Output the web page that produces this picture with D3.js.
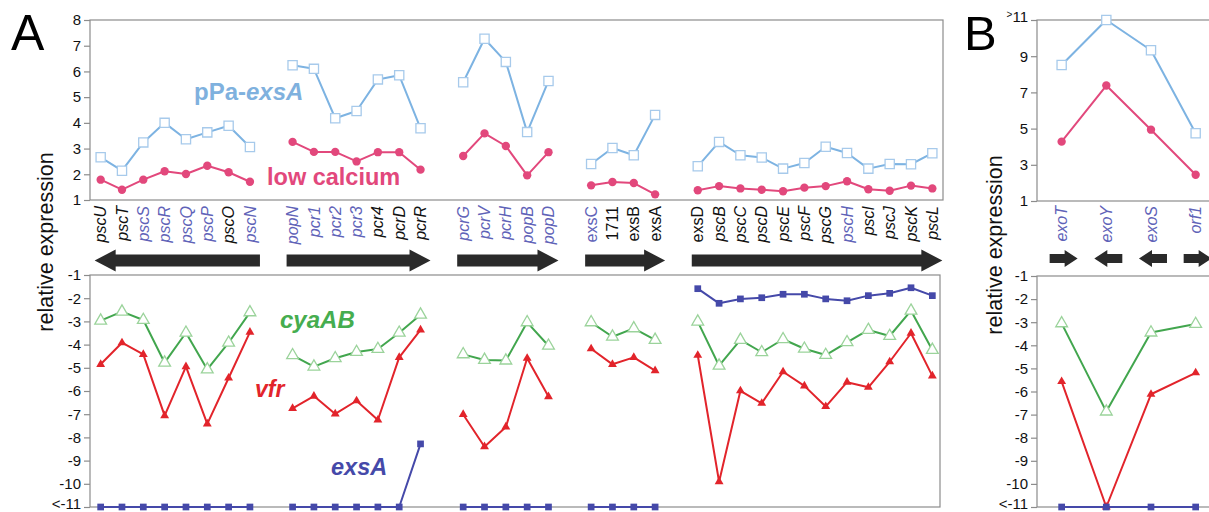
<!DOCTYPE html>
<html><head><meta charset="utf-8">
<script src="https://cdn.jsdelivr.net/npm/d3@7"></script>
<style>
body{margin:0;background:#fff}
svg{display:block}
text{font-family:"Liberation Sans",Arial,Helvetica,sans-serif}
</style>
</head><body>
<svg id="c" width="1209" height="512"></svg>
<script>
// ---------------- DATA ----------------
// Panel A: genes in genomic order, null = gap between operons
const genesA = ["pscU","pscT","pscS","pscR","pscQ","pscP","pscO","pscN",null,
  "popN","pcr1","pcr2","pcr3","pcr4","pcrD","pcrR",null,
  "pcrG","pcrV","pcrH","popB","popD",null,
  "exsC","1711","exsB","exsA",null,
  "exsD","pscB","pscC","pscD","pscE","pscF","pscG","pscH","pscI","pscJ","pscK","pscL"];
const blueLabelsA = ["pscS","pscR","pscQ","pscP","pscN","popN","pcr1","pcr2","pcr3",
  "pcrG","pcrV","pcrH","popB","popD","exsC","pscH"];
const uprightLabelsA = ["exsC","1711","exsB","exsA","exsD"];

const pPaExsA_A = [2.66,2.14,3.24,4.00,3.36,3.63,3.89,3.06,null,
  6.24,6.10,4.18,4.46,5.69,5.85,3.79,null,
  5.58,7.27,6.37,3.64,5.63,null,
  2.40,3.02,2.74,4.31,null,
  2.31,3.26,2.74,2.65,2.22,2.44,3.07,2.83,2.22,2.40,2.39,2.82];
const lowCalcium_A = [1.79,1.40,1.79,2.12,2.01,2.33,2.08,1.71,null,
  3.26,2.87,2.87,2.50,2.86,2.86,2.18,null,
  2.71,3.59,3.10,1.96,2.86,null,
  1.57,1.70,1.66,1.22,null,
  1.38,1.54,1.45,1.40,1.34,1.48,1.54,1.73,1.42,1.36,1.56,1.45];
const cyaAB_A = [-2.97,-2.58,-2.94,-4.78,-3.49,-5.07,-3.92,-2.61,null,
  -4.46,-4.95,-4.59,-4.32,-4.19,-3.49,-2.71,null,
  -4.42,-4.66,-4.69,-3.04,-4.05,null,
  -3.04,-3.66,-3.30,-3.80,null,
  -3.01,-4.91,-3.80,-4.33,-3.77,-4.18,-4.45,-3.90,-3.37,-3.63,-2.54,-4.23];
const vfr_A = [-4.85,-3.92,-4.42,-7.06,-4.95,-7.42,-5.44,-3.46,null,
  -6.75,-6.22,-6.99,-6.42,-7.25,-4.55,-3.37,null,
  -7.01,-8.40,-7.55,-4.59,-6.24,null,
  -4.18,-4.85,-4.55,-5.12,null,
  -4.46,-9.91,-5.99,-6.53,-5.17,-5.78,-6.67,-5.62,-5.84,-4.74,-3.51,-5.35];
const exsA_A = [-11,-11,-11,-11,-11,-11,-11,-11,null,
  -11,-11,-11,-11,-11,-11,-8.28,null,
  -11,-11,-11,-11,-11,null,
  -11,-11,-11,-11,null,
  -1.59,-2.22,-2.03,-1.98,-1.83,-1.83,-2.03,-2.11,-1.89,-1.79,-1.55,-1.89];
// operon arrows (first gene, last gene, direction)
const operonsA = [["pscU","pscN",-1],["popN","pcrR",1],["pcrG","popD",1],["exsC","exsA",1],["exsD","pscL",1]];

// Panel B
const genesB = ["exoT","exoY","exoS","orf1"];
const pPaExsA_B = [8.51,11.0,9.33,4.74];
const lowCalcium_B = [4.28,7.38,4.94,2.45];
const cyaAB_B = [-3.05,-6.87,-3.45,-3.08];
const vfr_B = [-5.57,-11.0,-6.12,-5.19];
const exsA_B = [-11,-11,-11,-11];
const dirB = [1,-1,-1,1];

// tick labels
const ticksTopA = [1,2,3,4,5,6,7,8];
const ticksBottom = [-1,-2,-3,-4,-5,-6,-7,-8,-9,-10,-11];
const ticksTopB = [1,3,5,7,9,11];

// ---------------- STYLE ----------------
const C = {
  pPaLine:"#7db3e2", pPaMark:"#a7caeb", pPaText:"#7fb1de",
  lowCa:"#e2487c",
  cyaLine:"#42a64e", cyaMark:"#9bd39b", cyaText:"#45ad4f",
  vfr:"#e2242b",
  exsA:"#4549a9",
  geneBlue:"#5f63b8", geneBlack:"#111",
  frame:"#8c8c8c", arrow:"#2a2a2a"
};

const svg = d3.select("#c");

// ---------------- SCALES ----------------
const xA = d3.scalePoint().domain(d3.range(genesA.length)).range([90,943]).padding(0.5);
const yTopA = d3.scaleLinear().domain([1,8]).range([200,20]);
const yBotA = d3.scaleLinear().domain([-11,-1]).range([507,275]);
const xB = d3.scalePoint().domain(d3.range(genesB.length)).range([1039.3,1218]).padding(0.5);
const yTopB = d3.scaleLinear().domain([1,11]).range([201,20]);
const yBotB = d3.scaleLinear().domain([-11,-1]).range([507,276]);

// frames
function frame(x0,x1,y0,y1){
  svg.append("rect").attr("x",x0).attr("y",y0).attr("width",x1-x0).attr("height",y1-y0)
    .attr("fill","none").attr("stroke",C.frame).attr("stroke-width",1.2);
}
frame(90,943,20,200);
frame(90,940,275,507);
frame(1037,1225,20,201);
frame(1037,1225,276,507);

// axes
function axis(x, y, ticks, fmt){
  const g = svg.append("g").attr("transform",`translate(${x},0)`)
    .call(d3.axisLeft(y).tickValues(ticks).tickFormat(fmt).tickSize(6).tickPadding(3));
  g.select(".domain").remove();
  g.selectAll(".tick line").attr("stroke",C.frame).attr("stroke-width",1.2);
  g.selectAll(".tick text").attr("font-size",15).attr("fill","#111")
    .attr("font-family","'Liberation Sans',Arial,sans-serif");
  g.selectAll(".tick").filter(d=>d===-11).select("text").attr("dy","0.12em");
  return g;
}
axis(90, yTopA, ticksTopA, d=>d);
axis(90, yBotA, ticksBottom, d=> d===-11 ? "<-11" : d);
const gb = axis(1037, yTopB, ticksTopB, d=> d===11 ? "" : d);
gb.selectAll(".tick").filter(d=>d===11).select("text")
  .call(t=>{ t.append("tspan").attr("font-size",10).attr("dy","-0.3em").text(">");
             t.append("tspan").attr("font-size",15).attr("dy","0.3em").text("11"); });
axis(1037, yBotB, ticksBottom, d=> d===-11 ? "<-11" : d);

// series drawing
function series(xs, ys, vals, opt){
  const pts = vals.map((v,i)=>({i, v}));
  const line = d3.line().defined(d=>d.v!=null).x(d=>xs(d.i)).y(d=>ys(d.v));
  svg.append("path").datum(pts).attr("d",line).attr("fill","none")
    .attr("stroke",opt.line).attr("stroke-width",opt.lw||2).attr("stroke-linejoin","round");
  const sym = d3.symbol().type(opt.type).size(opt.size);
  svg.append("g").selectAll("path").data(pts.filter(d=>d.v!=null)).join("path")
    .attr("d",sym).attr("transform",d=>`translate(${xs(d.i)},${ys(d.v)})`)
    .attr("fill",opt.fill).attr("stroke",opt.stroke||"none").attr("stroke-width",opt.sw||1.2);
}
const S = {
  pPa:{line:C.pPaLine,type:d3.symbolSquare,size:85,fill:"#fff",stroke:C.pPaMark,sw:1.3},
  low:{line:C.lowCa,type:d3.symbolCircle,size:55,fill:C.lowCa},
  cya:{line:C.cyaLine,type:d3.symbolTriangle,size:60,fill:"#fff",stroke:C.cyaMark,sw:1.3},
  vfr:{line:C.vfr,type:d3.symbolTriangle,size:34,fill:C.vfr},
  exs:{line:C.exsA,type:d3.symbolSquare,size:45,fill:C.exsA}
};
series(xA,yTopA,pPaExsA_A,S.pPa);
series(xA,yTopA,lowCalcium_A,S.low);
series(xA,yBotA,cyaAB_A,S.cya);
series(xA,yBotA,vfr_A,S.vfr);
series(xA,yBotA,exsA_A,S.exs);
series(xB,yTopB,pPaExsA_B,S.pPa);
series(xB,yTopB,lowCalcium_B,S.low);
series(xB,yBotB,cyaAB_B,S.cya);
series(xB,yBotB,vfr_B,S.vfr);
series(xB,yBotB,exsA_B,S.exs);

// gene labels
function geneLabels(xs, genes, blue, upright){
  svg.append("g").selectAll("text").data(genes.map((g,i)=>({g,i})).filter(d=>d.g))
    .join("text")
    .attr("transform",d=>`translate(${xs(d.i)},206) rotate(-90)`)
    .attr("text-anchor","end").attr("dy","0.35em")
    .attr("font-size",16)
    .attr("font-style",d=>upright.includes(d.g)?"normal":"italic")
    .attr("fill",d=>blue.includes(d.g)?C.geneBlue:C.geneBlack)
    .text(d=>d.g);
}
geneLabels(xA, genesA, blueLabelsA, uprightLabelsA);
geneLabels(xB, genesB, genesB, []);

// arrows
function arrowPath(x0,x1,dir,cy,bh,hh,hl){
  if(dir>0){
    const xb = x1-hl;
    return `M${x0},${cy-bh}L${xb},${cy-bh}L${xb},${cy-hh}L${x1},${cy}L${xb},${cy+hh}L${xb},${cy+bh}L${x0},${cy+bh}Z`;
  } else {
    const xb = x0+hl;
    return `M${x1},${cy-bh}L${xb},${cy-bh}L${xb},${cy-hh}L${x0},${cy}L${xb},${cy+hh}L${xb},${cy+bh}L${x1},${cy+bh}Z`;
  }
}
operonsA.forEach(([a,b,dir])=>{
  const xa = xA(genesA.indexOf(a)), xb = xA(genesA.indexOf(b));
  svg.append("path").attr("d",arrowPath(xa-6,xb+10,dir,260.5,6,11,21)).attr("fill",C.arrow);
});
genesB.forEach((g,i)=>{
  const cx = xB(i)+2;
  svg.append("path").attr("d",arrowPath(cx-14,cx+14,dirB[i],258.5,4.5,8.5,13)).attr("fill",C.arrow);
});

// series labels
const t1 = svg.append("text").attr("x",194).attr("y",100).attr("font-size",24).attr("font-weight","bold").attr("fill",C.pPaText);
t1.append("tspan").text("pPa-");
t1.append("tspan").attr("font-style","italic").text("exsA");
svg.append("text").attr("x",267).attr("y",185).attr("font-size",23.5).attr("font-weight","bold").attr("fill",C.lowCa).text("low calcium");
svg.append("text").attr("x",280).attr("y",328).attr("font-size",24).attr("font-weight","bold").attr("font-style","italic").attr("fill",C.cyaText).text("cyaAB");
svg.append("text").attr("x",255).attr("y",397).attr("font-size",23).attr("font-weight","bold").attr("font-style","italic").attr("fill",C.vfr).text("vfr");
svg.append("text").attr("x",331).attr("y",475).attr("font-size",23.5).attr("font-weight","bold").attr("font-style","italic").attr("fill",C.exsA).text("exsA");

// axis titles
[[53,242],[1002,245]].forEach(([x,y])=>{
  svg.append("text").attr("transform",`translate(${x},${y}) rotate(-90)`).attr("text-anchor","middle")
    .attr("font-size",21.5).attr("fill","#111").text("relative expression");
});
// panel letters
svg.append("text").attr("x",11).attr("y",50).attr("font-size",50).attr("fill","#000").text("A");
svg.append("text").attr("x",964).attr("y",50).attr("font-size",49).attr("fill","#000").text("B");
</script>
</body></html>
